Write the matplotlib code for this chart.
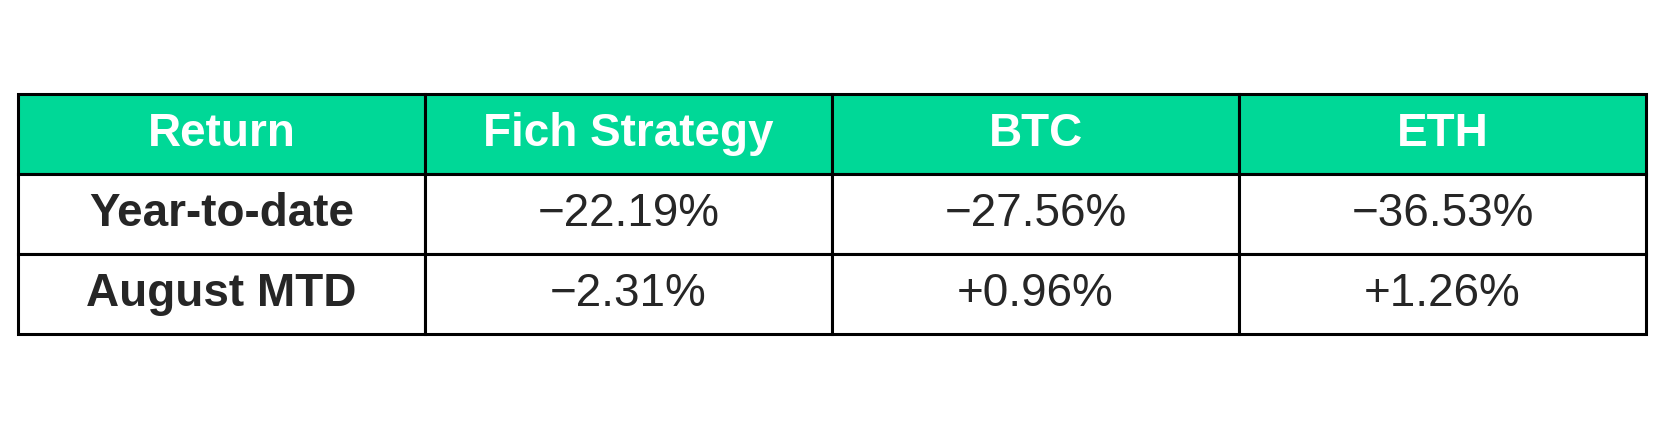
import matplotlib
matplotlib.use("Agg")
import matplotlib.pyplot as plt

columns = ["Return", "Fich Strategy", "BTC", "ETH"]
row_labels = ["Year-to-date", "August MTD"]
fich_values = ["\u221222.19%", "\u22122.31%"]
btc_values = ["\u221227.56%", "+0.96%"]
eth_values = ["\u221236.53%", "+1.26%"]

plt.rcParams['font.family'] = ['Liberation Sans', 'DejaVu Sans']

W, H = 1663, 428
fig = plt.figure(figsize=(W / 100, H / 100), dpi=100)
ax = fig.add_axes([0, 0, 1, 1])
ax.axis('off')

cell_text = [[row_labels[i], fich_values[i], btc_values[i], eth_values[i]] for i in range(len(row_labels))]

x0, x1 = 18, 1646
y_top, y_bot = 94, 334
bbox = [x0 / W, (H - y_bot) / H, (x1 - x0) / W, (y_bot - y_top) / H]

tbl = ax.table(cellText=cell_text, colLabels=columns, cellLoc='center', bbox=bbox)
tbl.auto_set_font_size(False)

header_color = '#00D897'
text_color = '#262626'
for (r, c), cell in tbl.get_celld().items():
    cell.set_edgecolor('black')
    cell.set_linewidth(2.2)
    t = cell.get_text()
    t.set_fontsize(33)
    if r == 0:
        cell.set_facecolor(header_color)
        t.set_color('white')
        t.set_fontweight('bold')
    else:
        cell.set_facecolor('white')
        t.set_color(text_color)
        if c == 0:
            t.set_fontweight('bold')

fig.savefig('out.png', dpi=100)
